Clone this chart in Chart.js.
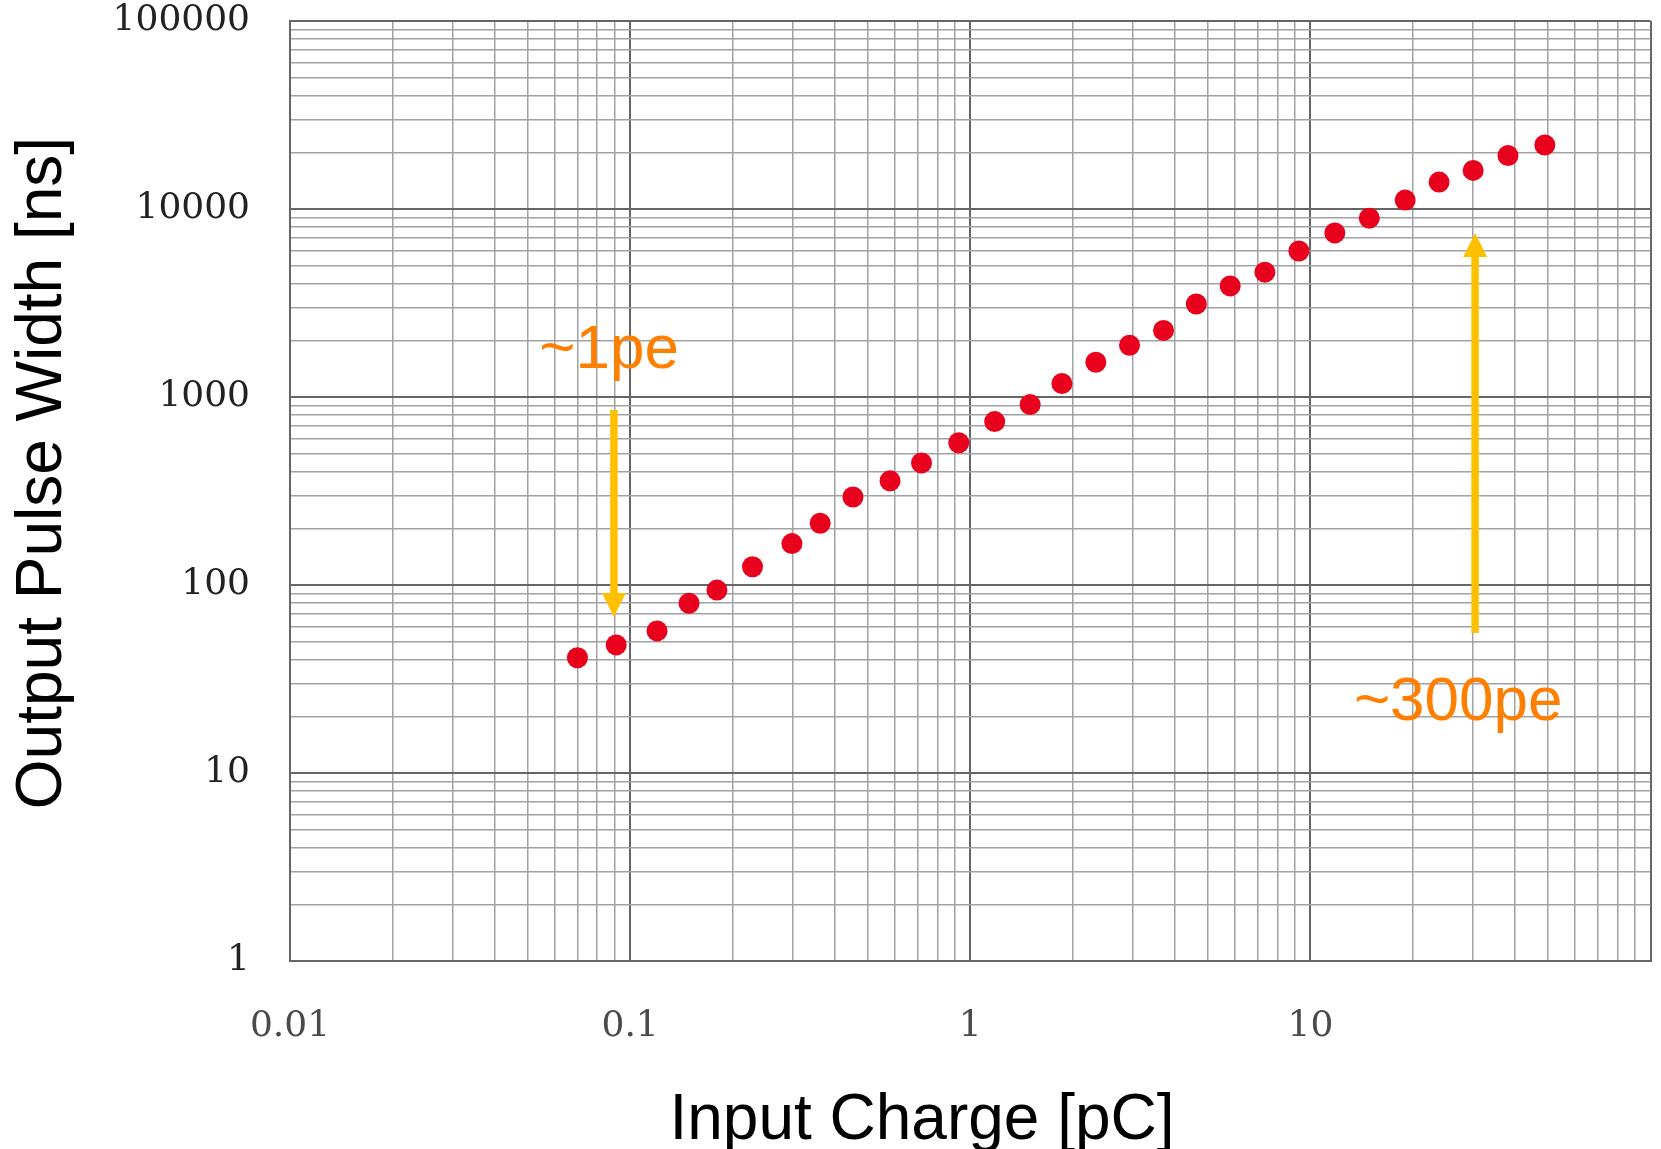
<!DOCTYPE html>
<html lang="en">
<head>
<meta charset="UTF-8">
<title>Output Pulse Width vs Input Charge</title>
<script src="https://cdn.jsdelivr.net/npm/chart.js"></script>
<style>
  html, body { margin: 0; padding: 0; background: #fff; }
  #wrap { width: 1661px; height: 1149px; }
</style>
</head>
<body>
<div id="wrap"><canvas id="pulseChart"></canvas></div>
<script>
// input charge [pC]
const charges = [0.070, 0.091, 0.120, 0.149, 0.180, 0.229, 0.299, 0.362, 0.452, 0.581,
                 0.719, 0.925, 1.18, 1.50, 1.86, 2.34, 2.94, 3.70, 4.62, 5.81,
                 7.35, 9.25, 11.8, 14.9, 19.0, 23.9, 30.1, 38.1, 48.9];
// output pulse width [ns]
const widths = [41, 48, 57, 80, 94, 125, 166, 213, 294, 358,
                446, 571, 740, 911, 1180, 1530, 1884, 2260, 3125, 3897,
                4615, 5980, 7460, 8940, 11150, 13900, 16040, 19240, 21900];

const xTickLabels = ['0.01', '0.1', '1', '10'];
const yTickLabels = ['1', '10', '100', '1000', '10000', '100000'];

// annotations (data coordinates)
const noteTexts = ['~1pe', '~300pe'];
const noteAt = [[0.0867, 1426], [27.2, 19.1]];
const arrowFrom = [[0.0896, 853], [30.5, 55.5]];
const arrowTo = [[0.0896, 67.6], [30.5, 7450]];

// label only the decades that carry a label in the original
function decadeLabel(v, list) {
  const lg = Math.log10(v);
  const e = Math.round(lg);
  if (Math.abs(lg - e) > 1e-9) return '';
  const s = e < 0 ? v.toFixed(-e) : String(Math.round(v));
  return list.includes(s) ? s : '';
}

// drop the 1.5 x 10^n ticks so the grid is plain 1..9 per decade
function keepWholeSteps(scale) {
  scale.ticks = scale.ticks.filter(t => {
    const m = t.value / Math.pow(10, Math.floor(Math.log10(t.value) + 1e-9));
    return Math.abs(m - Math.round(m)) < 1e-6;
  });
}

const gridColor = c => (c.tick && c.tick.major ? '#666' : '#a2a2a2');
const gridWidth = c => (c.tick && c.tick.major ? 2 : 1.5);

const overlay = {
  id: 'overlay',
  afterDatasetsDraw(chart) {
    const { ctx, scales: { x, y } } = chart;
    ctx.save();

    // yellow arrows
    ctx.fillStyle = '#ffc000';
    ctx.strokeStyle = '#ffc000';
    arrowFrom.forEach((from, i) => {
      const x0 = x.getPixelForValue(from[0]);
      const y0 = y.getPixelForValue(from[1]);
      const x1 = x.getPixelForValue(arrowTo[i][0]);
      const y1 = y.getPixelForValue(arrowTo[i][1]);
      const dir = Math.sign(y1 - y0);
      const head = 24;
      ctx.lineWidth = 7.5;
      ctx.beginPath();
      ctx.moveTo(x0, y0);
      ctx.lineTo(x1, y1 - dir * head);
      ctx.stroke();
      ctx.beginPath();
      ctx.moveTo(x1, y1);
      ctx.lineTo(x1 - 12, y1 - dir * head);
      ctx.lineTo(x1 + 12, y1 - dir * head);
      ctx.closePath();
      ctx.fill();
    });

    // orange notes
    ctx.fillStyle = '#ff8000';
    ctx.font = '62px "Liberation Sans", Arial, sans-serif';
    ctx.textAlign = 'center';
    ctx.textBaseline = 'alphabetic';
    noteTexts.forEach((t, i) => {
      ctx.fillText(t, x.getPixelForValue(noteAt[i][0]), y.getPixelForValue(noteAt[i][1]));
    });

    // axis titles
    ctx.fillStyle = '#000';
    ctx.font = '64px "Liberation Sans", Arial, sans-serif';
    ctx.fillText('Input Charge [pC]', 922, 1139);
    ctx.translate(61, 473);
    ctx.rotate(-Math.PI / 2);
    ctx.fillText('Output Pulse Width [ns]', 0, 0);
    ctx.restore();
  }
};

new Chart(document.getElementById('pulseChart'), {
  type: 'scatter',
  data: {
    datasets: [{
      data: charges.map((c, i) => ({ x: c, y: widths[i] })),
      backgroundColor: '#e8001c',
      borderWidth: 0,
      pointRadius: 10.5,
      pointHoverRadius: 10.5
    }]
  },
  options: {
    responsive: true,
    maintainAspectRatio: false,
    animation: false,
    layout: { padding: { top: 21, right: 6, left: 0, bottom: 0 } },
    plugins: { legend: { display: false }, tooltip: { enabled: false } },
    scales: {
      x: {
        type: 'logarithmic',
        min: 0.01,
        max: 100,
        afterBuildTicks: keepWholeSteps,
        afterFit: s => {
          s.height = 188;
          s.paddingLeft = 0;
          s.paddingRight = 0;
        },
        grid: { color: gridColor, lineWidth: gridWidth, drawTicks: false },
        border: { color: '#666', width: 2 },
        ticks: {
          autoSkip: false,
          maxRotation: 0,
          padding: 44,
          color: '#4a4a4a',
          font: { family: '"DejaVu Serif", serif', size: 36 },
          callback: v => decadeLabel(v, xTickLabels)
        }
      },
      y: {
        type: 'logarithmic',
        min: 1,
        max: 100000,
        afterBuildTicks: keepWholeSteps,
        afterFit: s => {
          s.width = 290;
          s.paddingTop = 0;
          s.paddingBottom = 0;
        },
        grid: { color: gridColor, lineWidth: gridWidth, drawTicks: false },
        border: { color: '#666', width: 2 },
        ticks: {
          autoSkip: false,
          padding: 40,
          color: '#222',
          font: { family: '"DejaVu Serif", serif', size: 36 },
          callback: v => decadeLabel(v, yTickLabels)
        }
      }
    }
  },
  plugins: [overlay]
});
</script>
</body>
</html>
